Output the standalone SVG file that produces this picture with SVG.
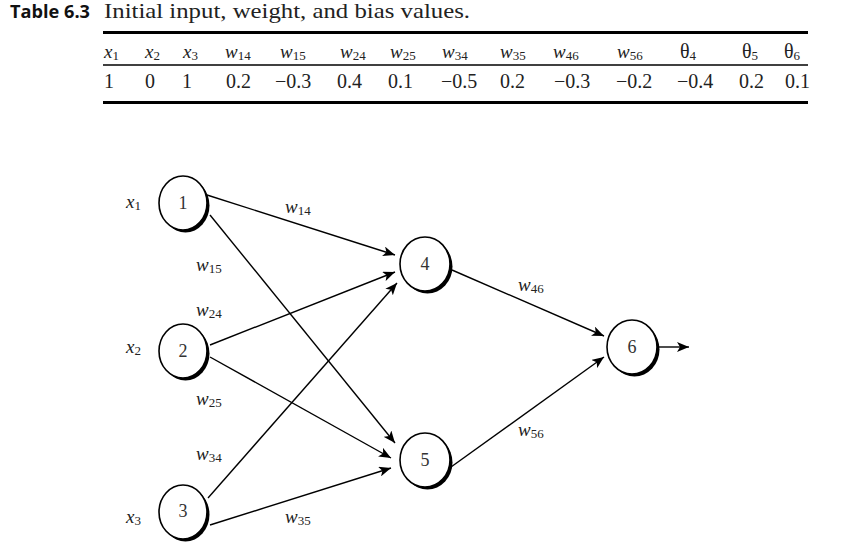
<svg xmlns="http://www.w3.org/2000/svg" width="853" height="547" viewBox="0 0 853 547">
<style>
.t{font-family:"Liberation Serif",serif;font-size:20px;fill:#222}
.i{font-style:italic;font-size:19px}
.s{font-style:normal;font-size:13px}
.rule{stroke:#000}
.edge{stroke:#000;stroke-width:1.4;fill:none;marker-end:url(#ah)}
.sh{fill:#000}
.nd{fill:#fff;stroke:#000;stroke-width:1.6}
.nl{font-family:"Liberation Serif",serif;font-size:18px;fill:#333;text-anchor:middle}
</style>
<defs>
<marker id="ah" viewBox="0 0 12 10" refX="12" refY="5" markerWidth="12" markerHeight="10" markerUnits="userSpaceOnUse" orient="auto">
<path d="M0,0 L12,5 L0,10 L3,5 Z" fill="#000"/>
</marker>
</defs>
<rect width="853" height="547" fill="#fff"/>
<g id="table">
<text x="10" y="18" font-family="'Open Sans','Noto Sans',sans-serif" font-weight="bold" font-size="18" fill="#111" textLength="80" lengthAdjust="spacingAndGlyphs">Table 6.3</text>
<text x="104" y="18" font-family="'Liberation Serif',serif" font-size="21" fill="#222" textLength="366" lengthAdjust="spacingAndGlyphs">Initial input, weight, and bias values.</text>
<line class="rule" x1="103" y1="32.5" x2="808" y2="32.5" stroke-width="3"/>
<line class="rule" x1="103" y1="65" x2="808" y2="65" stroke-width="1.5"/>
<line class="rule" x1="103" y1="102.5" x2="808" y2="102.5" stroke-width="3"/>
<g class="t">
<text x="104" y="58" class="i">x<tspan class="s" dy="2">1</tspan></text>
<text x="145" y="58" class="i">x<tspan class="s" dy="2">2</tspan></text>
<text x="183" y="58" class="i">x<tspan class="s" dy="2">3</tspan></text>
<text x="225" y="58" class="i">w<tspan class="s" dy="2">14</tspan></text>
<text x="280" y="58" class="i">w<tspan class="s" dy="2">15</tspan></text>
<text x="340" y="58" class="i">w<tspan class="s" dy="2">24</tspan></text>
<text x="390" y="58" class="i">w<tspan class="s" dy="2">25</tspan></text>
<text x="442" y="58" class="i">w<tspan class="s" dy="2">34</tspan></text>
<text x="500" y="58" class="i">w<tspan class="s" dy="2">35</tspan></text>
<text x="553" y="58" class="i">w<tspan class="s" dy="2">46</tspan></text>
<text x="617" y="58" class="i">w<tspan class="s" dy="2">56</tspan></text>
<text x="680" y="58">θ<tspan class="s" dy="2">4</tspan></text>
<text x="742" y="58">θ<tspan class="s" dy="2">5</tspan></text>
<text x="784" y="58">θ<tspan class="s" dy="2">6</tspan></text>
<text x="104" y="88">1</text>
<text x="145" y="88">0</text>
<text x="182" y="88">1</text>
<text x="226" y="88">0.2</text>
<text x="275" y="88">−0.3</text>
<text x="337" y="88">0.4</text>
<text x="388" y="88">0.1</text>
<text x="441" y="88">−0.5</text>
<text x="500" y="88">0.2</text>
<text x="554" y="88">−0.3</text>
<text x="616" y="88">−0.2</text>
<text x="677" y="88">−0.4</text>
<text x="739" y="88">0.2</text>
<text x="785" y="88">0.1</text>
</g>
</g>
<g id="connectors">
<line class="edge" x1="207" y1="195" x2="395" y2="255"/>
<line class="edge" x1="210" y1="215" x2="395" y2="443"/>
<line class="edge" x1="210" y1="345" x2="395" y2="272"/>
<line class="edge" x1="210" y1="357" x2="391" y2="458"/>
<line class="edge" x1="208" y1="498" x2="397" y2="283"/>
<line class="edge" x1="210" y1="525" x2="391" y2="468"/>
<line class="edge" x1="452" y1="270" x2="604" y2="336"/>
<line class="edge" x1="451" y1="467" x2="604" y2="357"/>
<line class="edge" x1="659" y1="347" x2="689" y2="347"/>
</g>
<g id="labels" class="t">
<text x="285" y="213" class="i">w<tspan class="s" dy="2">14</tspan></text>
<text x="196" y="271" class="i">w<tspan class="s" dy="2">15</tspan></text>
<text x="196" y="316" class="i">w<tspan class="s" dy="2">24</tspan></text>
<text x="196" y="405" class="i">w<tspan class="s" dy="2">25</tspan></text>
<text x="196" y="460" class="i">w<tspan class="s" dy="2">34</tspan></text>
<text x="285" y="523" class="i">w<tspan class="s" dy="2">35</tspan></text>
<text x="518" y="291" class="i">w<tspan class="s" dy="2">46</tspan></text>
<text x="518" y="436" class="i">w<tspan class="s" dy="2">56</tspan></text>
<text x="126" y="208" class="i">x<tspan class="s" dy="2">1</tspan></text>
<text x="126" y="353" class="i">x<tspan class="s" dy="2">2</tspan></text>
<text x="126" y="523" class="i">x<tspan class="s" dy="2">3</tspan></text>
</g>
<g id="node1"><ellipse class="sh" cx="185.5" cy="205.5" rx="24" ry="27"/><ellipse class="nd" cx="183" cy="203" rx="24" ry="27"/><text class="nl" x="183" y="209">1</text></g>
<g id="node2"><ellipse class="sh" cx="185.5" cy="353.5" rx="24" ry="27"/><ellipse class="nd" cx="183" cy="351" rx="24" ry="27"/><text class="nl" x="183" y="357">2</text></g>
<g id="node3"><ellipse class="sh" cx="185.5" cy="514.5" rx="24" ry="27"/><ellipse class="nd" cx="183" cy="512" rx="24" ry="27"/><text class="nl" x="183" y="517">3</text></g>
<g id="node4"><ellipse class="sh" cx="427.5" cy="266.5" rx="25" ry="27"/><ellipse class="nd" cx="425" cy="264" rx="25" ry="27"/><text class="nl" x="425" y="270">4</text></g>
<g id="node5"><ellipse class="sh" cx="427.5" cy="462.5" rx="25" ry="27"/><ellipse class="nd" cx="425" cy="460" rx="25" ry="27"/><text class="nl" x="425" y="466">5</text></g>
<g id="node6"><ellipse class="sh" cx="634.5" cy="349.5" rx="25" ry="27"/><ellipse class="nd" cx="632" cy="347" rx="25" ry="27"/><text class="nl" x="632" y="353">6</text></g>
</svg>
